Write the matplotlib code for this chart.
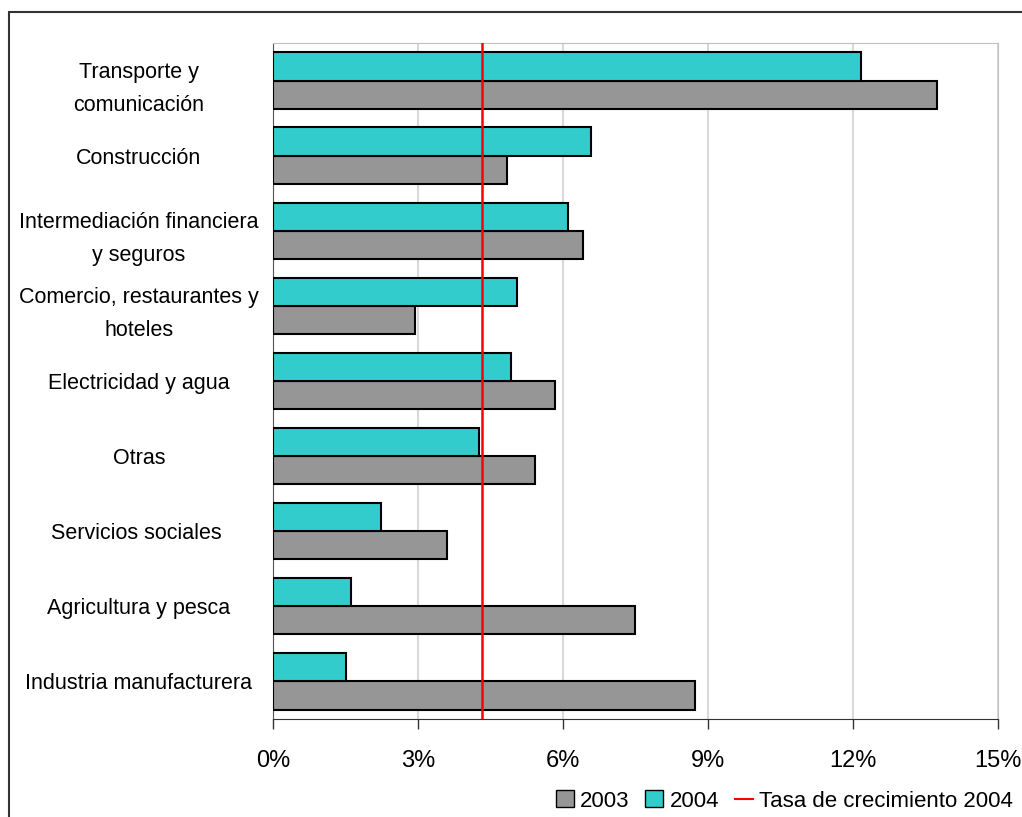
import matplotlib
matplotlib.use('Agg')
import matplotlib.pyplot as plt
import matplotlib.patches as mpatches
from matplotlib.lines import Line2D
from matplotlib.ticker import FuncFormatter
import numpy as np

plt.rcParams['font.family'] = ['Liberation Sans', 'DejaVu Sans']

# datos (de abajo hacia arriba)
sectores = ['Industria manufacturera', 'Agricultura y pesca', 'Servicios sociales ',
            'Otras', 'Electricidad y agua', 'Comercio, restaurantes y\nhoteles',
            'Intermediación financiera\ny seguros', 'Construcción', 'Transporte y\ncomunicación']
v2003 = [8.73, 7.49, 3.60, 5.42, 5.83, 2.94, 6.41, 4.84, 13.73]
v2004 = [1.52, 1.61, 2.23, 4.26, 4.92, 5.04, 6.11, 6.58, 12.17]
tasa_2004 = 4.32
xticks = [0, 3, 6, 9, 12, 15]

fig = plt.figure(figsize=(10.22, 8.17), dpi=100)
ax = fig.add_axes([0.2671, 0.12, 0.7094, 0.8274])

y = np.arange(len(sectores))
h = 0.375
ax.barh(y - h / 2, v2003, height=h, color='#969696', edgecolor='black', linewidth=1.5, zorder=3)
ax.barh(y + h / 2, v2004, height=h, color='#33cccc', edgecolor='black', linewidth=1.5, zorder=3)
ax.axvline(tasa_2004, color='red', linewidth=1.8, zorder=4)

ax.set_xlim(0, 15)
ax.set_ylim(-0.5, len(sectores) - 0.5)
ax.set_xticks(xticks)
ax.xaxis.set_major_formatter(FuncFormatter(lambda v, p: '%d%%' % v))
ax.set_yticks(y)
ax.set_yticklabels(sectores, fontsize=15.5, linespacing=1.72)
ax.tick_params(axis='y', length=0, pad=14)
ax.tick_params(axis='x', length=7, width=1, color='#333333', labelsize=17, pad=15)
for lab in ax.get_yticklabels():
    lab.set_horizontalalignment('center')
    lab.set_x(-0.158)

ax.grid(axis='x', color='#d9d9d9', linewidth=1.5, zorder=0)
ax.spines['top'].set_color('#c0c0c0')
ax.spines['right'].set_color('#c0c0c0')
ax.spines['left'].set_color('#555555')
ax.spines['bottom'].set_color('#333333')

handles = [mpatches.Patch(facecolor='#969696', edgecolor='black', label='2003'),
           mpatches.Patch(facecolor='#33cccc', edgecolor='black', label='2004'),
           Line2D([0], [0], color='red', linewidth=1.5, label='Tasa de crecimiento 2004')]
fig.legend(handles=handles, loc='lower right', bbox_to_anchor=(1.011, -0.018), ncol=3,
           frameon=False, fontsize=16, handlelength=0.8, handleheight=0.8,
           handletextpad=0.3, columnspacing=0.7)

# marco del gráfico
fig.patches.append(mpatches.Rectangle((9 / 1022, -0.05), 1.1, 1 - 12 / 817 + 0.05,
                                      transform=fig.transFigure, fill=False,
                                      edgecolor='#333333', linewidth=1.5))

fig.savefig('out.png', dpi=100)
